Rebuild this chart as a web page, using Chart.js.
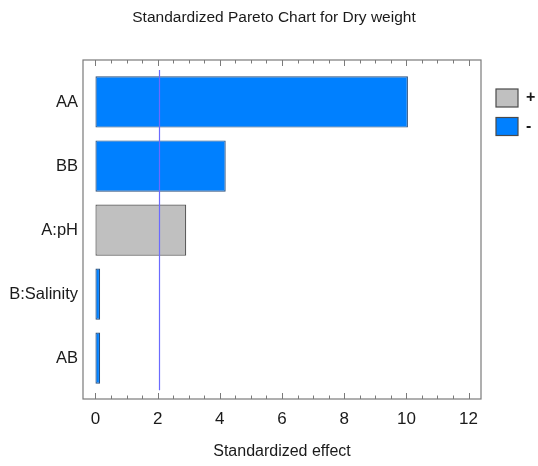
<!DOCTYPE html>
<html>
<head>
<meta charset="utf-8">
<script src="https://cdn.jsdelivr.net/npm/chart.js@4/dist/chart.umd.min.js"></script>
<style>
  html, body { margin: 0; padding: 0; background: #ffffff; }
  #wrap { width: 538px; height: 466px; }
</style>
</head>
<body>
<div id="wrap"><canvas id="pareto" width="538" height="466"></canvas></div>
<script>
// Effects, ordered largest first
const effects = ['AA', 'BB', 'A:pH', 'B:Salinity', 'AB'];
const standardizedEffect = [10.05, 4.19, 2.92, 0.15, 0.15];
const effectSign = ['-', '-', '+', '-', '-'];
const criticalValue = 2.04;
const xTickValues = [0, 2, 4, 6, 8, 10, 12];
const legendSigns = ['+', '-'];

const FONT = "'Liberation Sans', Arial, sans-serif";
const TEXT = '#1a1a1a';
const signFill = { '+': '#c0c0c0', '-': '#0080ff' };
const signEdge = { '+': '#555555', '-': '#2b4f7a' };

// frame, inward ticks, critical-value line and sign legend
const paretoDecor = {
  id: 'paretoDecor',
  afterDatasetsDraw(chart) {
    const { ctx, chartArea: a, scales } = chart;
    const x = scales.x, y = scales.y;
    ctx.save();

    // critical value line across the effect bands
    const cx = Math.round(x.getPixelForValue(criticalValue)) + 0.5;
    ctx.strokeStyle = '#6b6bff';
    ctx.lineWidth = 1.2;
    ctx.beginPath();
    ctx.moveTo(cx, y.getPixelForValue(-0.5));
    ctx.lineTo(cx, y.getPixelForValue(effects.length - 0.5));
    ctx.stroke();

    // frame
    ctx.strokeStyle = '#7a7a7a';
    ctx.lineWidth = 1.2;
    ctx.strokeRect(a.left, a.top, a.right - a.left, a.bottom - a.top);

    // inward ticks on top and bottom edges
    ctx.lineWidth = 1;
    ctx.beginPath();
    for (let v = 0; v <= 12.001; v += 0.5) {
      const px = Math.round(x.getPixelForValue(v)) + 0.5;
      const len = (Math.abs(v % 2) < 1e-6) ? 6 : 3.5;
      ctx.moveTo(px, a.bottom);
      ctx.lineTo(px, a.bottom - len);
      ctx.moveTo(px, a.top);
      ctx.lineTo(px, a.top + len);
    }
    ctx.stroke();

    // legend
    const bx = a.right + 15;
    let by = a.top + 29;
    ctx.font = 'bold 16px ' + FONT;
    ctx.textBaseline = 'middle';
    ctx.textAlign = 'left';
    legendSigns.forEach(s => {
      ctx.fillStyle = signFill[s];
      ctx.fillRect(bx, by, 22, 18);
      ctx.strokeStyle = '#4a4a4a';
      ctx.lineWidth = 1.2;
      ctx.strokeRect(bx, by, 22, 18);
      ctx.fillStyle = TEXT;
      ctx.fillText(s, bx + 30, by + 9);
      by += 28.5;
    });

    ctx.restore();
  }
};

new Chart(document.getElementById('pareto'), {
  type: 'bar',
  data: {
    datasets: [{
      label: 'Standardized effect',
      data: standardizedEffect.map((v, i) => ({ x: v, y: i })),
      backgroundColor: effectSign.map(s => signFill[s]),
      borderColor: effectSign.map(s => signEdge[s]),
      borderWidth: 1.2,
      borderSkipped: false,
      barPercentage: 0.8,
      categoryPercentage: 1.0
    }]
  },
  options: {
    indexAxis: 'y',
    responsive: false,
    animation: false,
    devicePixelRatio: 1,
    layout: { padding: { left: 10, right: 0, top: 0, bottom: 0 } },
    scales: {
      x: {
        type: 'linear',
        position: 'bottom',
        min: -0.4,
        max: 12.4,
        offset: false,
        afterBuildTicks: s => { s.ticks = xTickValues.map(v => ({ value: v })); },
        afterFit: s => { s.height = 67; },
        grid: { display: false, drawTicks: false },
        border: { display: false },
        ticks: { padding: 10, color: TEXT, font: { family: FONT, size: 17 } },
        title: {
          display: true,
          text: 'Standardized effect',
          color: TEXT,
          font: { family: FONT, size: 16 },
          padding: { top: 0, bottom: 5 }
        }
      },
      y: {
        type: 'linear',
        position: 'left',
        reverse: true,
        offset: false,
        min: -0.655,
        max: 4.637,
        afterBuildTicks: s => { s.ticks = effects.map((_, i) => ({ value: i })); },
        afterFit: s => { s.width = 73; },
        grid: { display: false, drawTicks: false, offset: false },
        border: { display: false },
        ticks: {
          autoSkip: false,
          padding: 5,
          color: TEXT,
          font: { family: FONT, size: 16.5 },
          callback: v => effects[v]
        }
      },
      legendSpace: {
        type: 'linear',
        position: 'right',
        afterFit: s => { s.width = 57; },
        grid: { display: false, drawTicks: false },
        border: { display: false },
        ticks: { display: false }
      }
    },
    plugins: {
      legend: { display: false },
      tooltip: { enabled: false },
      title: {
        display: true,
        text: 'Standardized Pareto Chart for Dry weight',
        color: TEXT,
        font: { family: FONT, size: 15.5, weight: 'normal' },
        padding: { top: 8, bottom: 33.4 }
      }
    }
  },
  plugins: [paretoDecor]
});
</script>
</body>
</html>
